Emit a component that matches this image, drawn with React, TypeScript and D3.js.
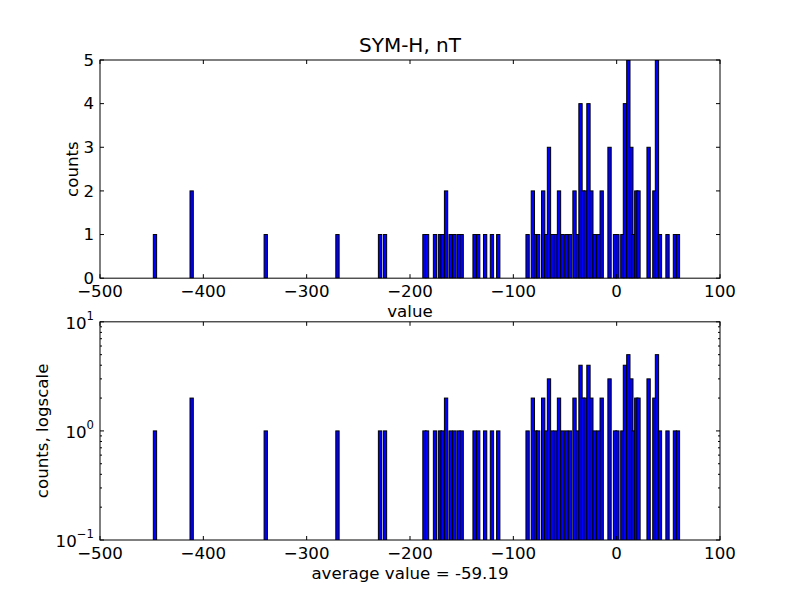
import React from 'react';
import * as d3 from 'd3';

// Histogram bars (bar centre value, count)
const barValues = [
  -446.8, -411.3, -339.6, -270.2, -229, -224.2, -186, -183.5, -175.8, -171, -168.5,
  -165.1, -160.7, -157.2, -153, -150, -137.5, -134, -127.3, -120.7, -114.6,
  -86.2, -81.1, -78.5, -76, -71.1, -68.2, -65.5, -62.6, -59.2, -55.8, -52.6,
  -48.7, -45.2, -40.8, -37.9, -35, -32.6, -30.2, -27.3, -24.5, -21.4, -17.8,
  -14.5, -6.9, -1.6, 0.7, 5.5, 8, 11.3, 14.2, 16.1, 19, 21.1, 30.9, 36.5, 39,
  41.9, 49.2, 56.4, 59.3,
];
const barCounts = [
  1, 2, 1, 1, 1, 1, 1, 1, 1, 1, 1,
  2, 1, 1, 1, 1, 1, 1, 1, 1, 1,
  1, 2, 1, 1, 2, 1, 3, 1, 1, 2, 1,
  1, 1, 2, 1, 4, 2, 2, 4, 2, 1, 1,
  2, 3, 1, 1, 1, 4, 5, 3, 1, 2, 2, 3, 2, 5,
  1, 1, 1, 1,
];
const BAR_WIDTH = 3.2;

const xTicks = [-500, -400, -300, -200, -100, 0, 100];
const linTicks = [0, 1, 2, 3, 4, 5];
const logTicks = [0.1, 1, 10];
const logExponents = ['\u22121', '0', '1'];
const titleText = 'SYM-H, nT';
const averageValue = -59.19;

const FONT = 'DejaVu Sans, sans-serif';
const FS = 16.67;

function fmt(v: number) {
  return v < 0 ? '\u2212' + Math.abs(v) : String(v);
}

export default function App() {
  const W = 800, H = 600;
  const left = 100, right = 720;
  const top1 = 60, bot1 = 278.18, top2 = 321.82, bot2 = 540;

  const x = d3.scaleLinear().domain([-500, 100]).range([left, right]);
  const y1 = d3.scaleLinear().domain([0, 5]).range([bot1, top1]);
  const y2 = d3.scaleLog().domain([0.1, 10]).range([bot2, top2]);

  const bars = barValues.map((v, i) => ({ v, c: barCounts[i] }));

  const minorLog: number[] = [];
  [0.1, 1].forEach((d) => {
    for (let k = 2; k <= 9; k++) minorLog.push(d * k);
  });

  const xAxisTicks = (top: number, bot: number) =>
    xTicks.map((t) => (
      <g key={'xt' + t + top}>
        <line x1={x(t)} x2={x(t)} y1={bot} y2={bot - 4} stroke="black" />
        <line x1={x(t)} x2={x(t)} y1={top} y2={top + 4} stroke="black" />
        <text x={x(t)} y={bot + 19} textAnchor="middle" fontSize={FS} fontFamily={FONT}>
          {fmt(t)}
        </text>
      </g>
    ));

  return (
    <div style={{ position: 'absolute', left: 0, top: 0 }}>
      <svg width={W} height={H} style={{ display: 'block', background: 'white' }}>
        <defs>
          <clipPath id="c1"><rect x={left} y={top1} width={right - left} height={bot1 - top1} /></clipPath>
          <clipPath id="c2"><rect x={left} y={top2} width={right - left} height={bot2 - top2} /></clipPath>
        </defs>
        <rect x={0} y={0} width={W} height={H} fill="white" />

        {/* Top panel */}
        <g clipPath="url(#c1)">
          {bars.map((b, i) => (
            <rect key={'b1' + i}
              x={x(b.v - BAR_WIDTH / 2)}
              width={x(b.v + BAR_WIDTH / 2) - x(b.v - BAR_WIDTH / 2)}
              y={y1(b.c)}
              height={y1(0) - y1(b.c)}
              fill="#0000ff" stroke="black" strokeWidth={1} />
          ))}
        </g>
        <rect x={left} y={top1} width={right - left} height={bot1 - top1} fill="none" stroke="black" strokeWidth={1} />
        {xAxisTicks(top1, bot1)}
        {linTicks.map((t) => (
          <g key={'yt' + t}>
            <line x1={left} x2={left + 4} y1={y1(t)} y2={y1(t)} stroke="black" />
            <line x1={right} x2={right - 4} y1={y1(t)} y2={y1(t)} stroke="black" />
            <text x={left - 6} y={y1(t)} dy="0.35em" textAnchor="end" fontSize={FS} fontFamily={FONT}>{t}</text>
          </g>
        ))}
        <text x={(left + right) / 2} y={top1 - 8} textAnchor="middle" fontSize={FS * 1.2} fontFamily={FONT}>{titleText}</text>
        <text x={(left + right) / 2} y={bot1 + 39} textAnchor="middle" fontSize={FS} fontFamily={FONT}>value</text>
        <text transform={`translate(78,${(top1 + bot1) / 2}) rotate(-90)`} textAnchor="middle" fontSize={FS} fontFamily={FONT}>counts</text>

        {/* Bottom panel */}
        <g clipPath="url(#c2)">
          {bars.map((b, i) => (
            <rect key={'b2' + i}
              x={x(b.v - BAR_WIDTH / 2)}
              width={x(b.v + BAR_WIDTH / 2) - x(b.v - BAR_WIDTH / 2)}
              y={y2(b.c)}
              height={bot2 + 5 - y2(b.c)}
              fill="#0000ff" stroke="black" strokeWidth={1} />
          ))}
        </g>
        <rect x={left} y={top2} width={right - left} height={bot2 - top2} fill="none" stroke="black" strokeWidth={1} />
        {xAxisTicks(top2, bot2)}
        {logTicks.map((t, i) => (
          <g key={'lt' + t}>
            <line x1={left} x2={left + 4} y1={y2(t)} y2={y2(t)} stroke="black" />
            <line x1={right} x2={right - 4} y1={y2(t)} y2={y2(t)} stroke="black" />
            <text x={left - 6} y={y2(t) + 7} textAnchor="end" fontSize={FS} fontFamily={FONT}>
              10<tspan dy={-9} fontSize={FS * 0.7}>{logExponents[i]}</tspan>
            </text>
          </g>
        ))}
        {minorLog.map((t) => (
          <g key={'ml' + t}>
            <line x1={left} x2={left + 2} y1={y2(t)} y2={y2(t)} stroke="black" />
            <line x1={right} x2={right - 2} y1={y2(t)} y2={y2(t)} stroke="black" />
          </g>
        ))}
        <text x={(left + right) / 2} y={bot2 + 39} textAnchor="middle" fontSize={FS} fontFamily={FONT}>
          {`average value = ${averageValue.toFixed(2)}`}
        </text>
        <text transform={`translate(48,${(top2 + bot2) / 2}) rotate(-90)`} textAnchor="middle" fontSize={FS} fontFamily={FONT}>counts, logscale</text>
      </svg>
    </div>
  );
}
